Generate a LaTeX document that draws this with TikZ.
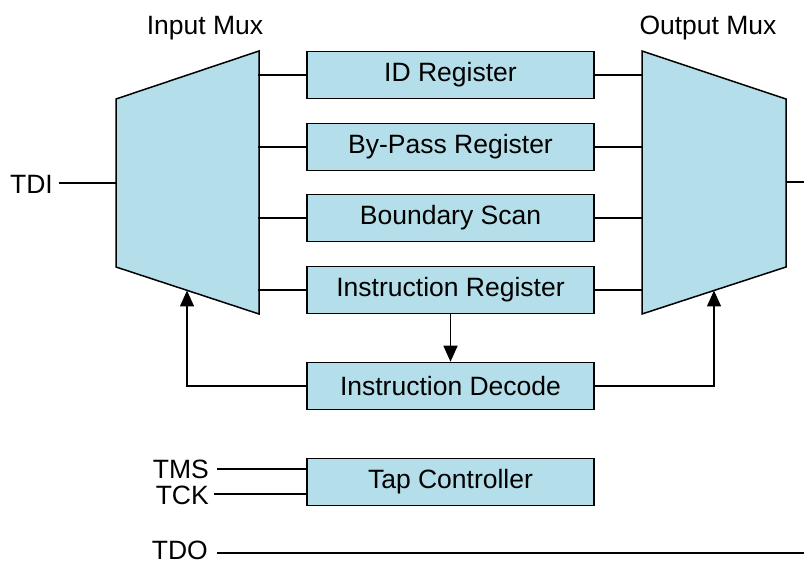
\documentclass[tikz,border=0pt]{standalone}
\usepackage{fontspec}
\setmainfont{Liberation Sans}
\usetikzlibrary{arrows.meta}
\definecolor{boxblue}{RGB}{180,222,233}
\begin{document}
\begin{tikzpicture}[x=1pt,y=-1pt,
  wire/.style={line width=1.5pt},
  arr/.style={line width=1.5pt,-{Triangle[length=16pt,width=14pt]}},
  regbox/.style={draw,line width=1.5pt,fill=boxblue,minimum width=287pt,minimum height=47pt,inner sep=0pt,font=\fontsize{26.5}{30}\selectfont},
  lbl/.style={inner sep=0pt,font=\fontsize{26.5}{30}\selectfont}]
\useasboundingbox (0,0) rectangle (804,561);
% muxes
\draw[line width=1.5pt,fill=boxblue] (116,99) -- (259,51) -- (259,314) -- (116,267) -- cycle;
\draw[line width=1.5pt,fill=boxblue] (642,51) -- (786,99) -- (786,267) -- (642,314) -- cycle;
\coordinate (imin) at (116,183);
\coordinate (imbot) at (187,290.5);
\coordinate (omout) at (786,182);
\coordinate (ombot) at (714,290.5);
\coordinate (rend) at (804,182);
\coordinate (tdoend) at (804,553);
\node[lbl] (inmux) at (205,28) {Input Mux};
\node[lbl] (outmux) at (708,28) {Output Mux};
% registers
\node[regbox] (id) at (450.5,75) {ID Register};
\node[regbox] (bp) at (450.5,147) {By-Pass Register};
\node[regbox] (bs) at (450.5,218) {Boundary Scan};
\node[regbox] (ir) at (450.5,290) {Instruction Register};
\node[regbox] (dec) at (450.5,386) {Instruction Decode};
\node[regbox] (tap) at (450.5,482) {Tap Controller};
% mux connections
\foreach \n in {id,bp,bs,ir}{
  \draw[wire] (\n.west) -- ++(-48,0);
  \draw[wire] (\n.east) -- ++(48,0);
}
% labels
\node[lbl,anchor=east] (tdi) at (53,184) {TDI};
\node[lbl,anchor=east] (tms) at (209,469) {TMS};
\node[lbl,anchor=east] (tck) at (209,495) {TCK};
\node[lbl,anchor=east] (tdo) at (208,550) {TDO};
\draw[wire] (tdi.east) ++(6,-1) -- (imin);
\draw[wire] (omout) -- (rend);
\draw[wire] (tms.east) ++(8,0) -- (tap.west |- 0,469);
\draw[wire] (tck.east) ++(5,-1) -- (tap.west |- 0,494);
\draw[wire] (tdo.east) ++(9,3) -- (tdoend);
% decode arrows
\draw[arr] (ir.south) -- (dec.north);
\draw[arr] (dec.west) -| (imbot);
\draw[arr] (dec.east) -| (ombot);
\end{tikzpicture}
\end{document}
